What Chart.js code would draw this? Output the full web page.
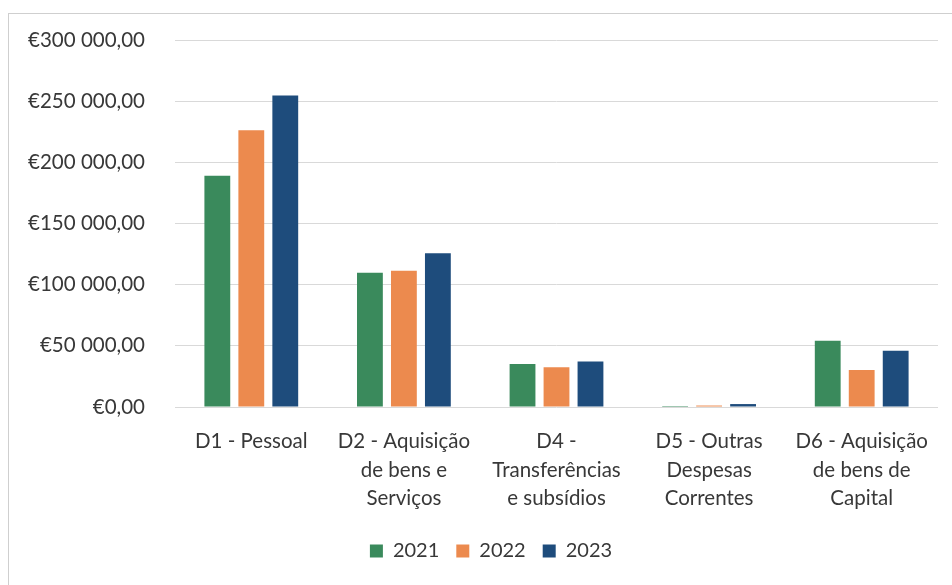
<!DOCTYPE html>
<html>
<head>
<meta charset="utf-8">
<script src="https://cdn.jsdelivr.net/npm/chart.js@4.4.1/dist/chart.umd.min.js"></script>
<style>
html,body{margin:0;padding:0;background:#fff;}
#wrap{position:relative;width:952px;height:585px;overflow:hidden;}
#frame{position:absolute;left:8px;top:13px;width:960px;height:600px;border-left:1px solid #cfcfcf;border-top:1px solid #cfcfcf;}
canvas{position:absolute;left:0;top:0;}
</style>
</head>
<body>
<div id="wrap"><div id="frame"></div><canvas id="c" width="952" height="585"></canvas></div>
<script>
const categories = [
  ["D1 - Pessoal"],
  ["D2 - Aquisição","de bens e","Serviços"],
  ["D4 -","Transferências","e subsídios"],
  ["D5 - Outras","Despesas","Correntes"],
  ["D6 - Aquisição","de bens de","Capital"]
];
const seriesNames = ["2021","2022","2023"];
const values2021 = [189000, 109700, 35200, 800, 54100];
const values2022 = [226300, 111400, 32400, 1200, 30200];
const values2023 = [254600, 125600, 37100, 2400, 45900];
const yTicks = [0, 50000, 100000, 150000, 200000, 250000, 300000];

const colors = ["#3a8a5c", "#ec8a4e", "#1e4c7c"];
const font = "Lato, 'Noto Sans', sans-serif";
const textColor = "#383838";

function fmt(v){
  const s = Math.round(v).toString().replace(/\B(?=(\d{3})+(?!\d))/g, " ");
  return "€" + s + ",00";
}

const legendShift = {
  id: "legendShift",
  afterLayout(chart){
    if (chart.legend){ chart.legend.left += 17; chart.legend.right += 17; }
  }
};

new Chart(document.getElementById("c"), {
  type: "bar",
  data: {
    labels: categories,
    datasets: [
      {label: seriesNames[0], data: values2021, backgroundColor: colors[0]},
      {label: seriesNames[1], data: values2022, backgroundColor: colors[1]},
      {label: seriesNames[2], data: values2023, backgroundColor: colors[2]}
    ]
  },
  plugins: [legendShift],
  options: {
    responsive: false,
    animation: false,
    devicePixelRatio: 1,
    layout: {padding: {left: 10, right: 14, top: 40, bottom: 14}},
    datasets: {bar: {categoryPercentage: 0.668, barPercentage: 0.76}},
    plugins: {
      tooltip: {enabled: false},
      legend: {
        position: "bottom",
        labels: {
          color: textColor,
          font: {family: font, size: 20},
          boxWidth: 13, boxHeight: 13,
          padding: 17
        }
      }
    },
    scales: {
      x: {
        grid: {display: false, drawTicks: false},
        border: {display: false},
        ticks: {
          color: textColor,
          font: {family: font, size: 20.5, lineHeight: 1.4},
          autoSkip: false, maxRotation: 0, minRotation: 0,
          padding: 20
        },
        afterFit: s => { s.height = 117; s.paddingLeft = 0; s.paddingRight = 0; }
      },
      y: {
        min: 0, max: 300000,
        afterBuildTicks: s => { s.ticks = yTicks.map(v => ({value: v})); },
        grid: {color: "#d9d9d9", drawTicks: false, lineWidth: 1},
        border: {display: false},
        ticks: {
          color: textColor,
          font: {family: font, size: 20.5},
          padding: 30,
          callback: v => fmt(v)
        },
        afterFit: s => { s.width = 165; s.paddingTop = 0; s.paddingBottom = 0; }
      }
    }
  }
});
</script>
</body>
</html>
